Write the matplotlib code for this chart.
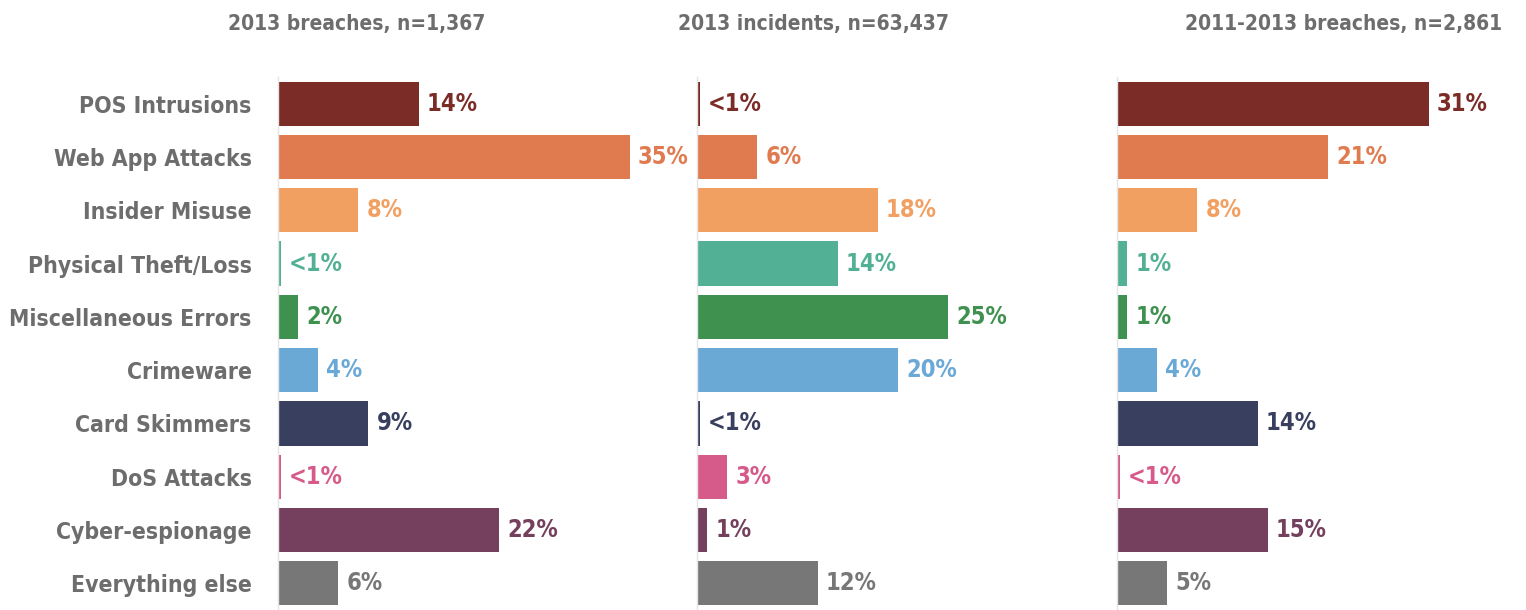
import numpy as np
import matplotlib
matplotlib.use("Agg")
import matplotlib.pyplot as plt

plt.rcParams['font.family'] = ['DejaVu Sans']
plt.rcParams['font.stretch'] = 'condensed'

categories = ["POS Intrusions", "Web App Attacks", "Insider Misuse", "Physical Theft/Loss",
              "Miscellaneous Errors", "Crimeware", "Card Skimmers", "DoS Attacks",
              "Cyber-espionage", "Everything else"]
colors = ["#7b2c27", "#e07a4f", "#f2a062", "#52b094", "#3f9150",
          "#6aa8d6", "#383f5f", "#d65a8a", "#74405e", "#777777"]

titles = ["2013 breaches, n=1,367", "2013 incidents, n=63,437", "2011-2013 breaches, n=2,861"]

# bar lengths in %, "<1%" drawn as a thin sliver
breaches_2013 = [14, 35, 8, 0.3, 2, 4, 9, 0.3, 22, 6]
incidents_2013 = [0.3, 6, 18, 14, 25, 20, 0.3, 3, 1, 12]
breaches_2011_13 = [31, 21, 8, 1, 1, 4, 14, 0.3, 15, 5]

labels_b13 = ["14%", "35%", "8%", "<1%", "2%", "4%", "9%", "<1%", "22%", "6%"]
labels_i13 = ["<1%", "6%", "18%", "14%", "25%", "20%", "<1%", "3%", "1%", "12%"]
labels_b1113 = ["31%", "21%", "8%", "1%", "1%", "4%", "14%", "<1%", "15%", "5%"]

data = [(breaches_2013, labels_b13), (incidents_2013, labels_i13), (breaches_2011_13, labels_b1113)]

W, H = 1526, 610
fig = plt.figure(figsize=(W / 100, H / 100), dpi=100)

lefts = [278, 697, 1117]
title_x = [357, 813, 1344]
px_per_pct = 10.05
ax_w = 400

for i, ((vals, labs), left) in enumerate(zip(data, lefts)):
    ax = fig.add_axes([left / W, 0.0, ax_w / W, 533 / H])
    y = np.arange(len(categories))
    ax.barh(y, vals, height=0.83, color=colors)
    for yy, v, lab, c in zip(y, vals, labs, colors):
        ax.text(v + 0.8, yy, lab, va="center", ha="left", color=c,
                fontsize=17, fontweight="bold")
    ax.set_xlim(0, ax_w / px_per_pct)
    ax.set_ylim(len(categories) - 0.5, -0.5)
    ax.set_xticks([])
    for s in ["top", "right", "bottom"]:
        ax.spines[s].set_visible(False)
    ax.spines["left"].set_color("#e4e4e4")
    ax.spines["left"].set_linewidth(1)
    if i == 0:
        ax.set_yticks(y)
        ax.set_yticklabels(categories, fontsize=16.5, fontweight="bold", color="#6d6d6d")
        ax.tick_params(axis="y", length=0, pad=19)
    else:
        ax.set_yticks([])
    fig.text(title_x[i] / W, 1 - 24 / H, titles[i], ha="center", va="center",
             fontsize=15, fontweight="bold", color="#6d6d6d")

fig.savefig("out.png", dpi=100, facecolor="white")
